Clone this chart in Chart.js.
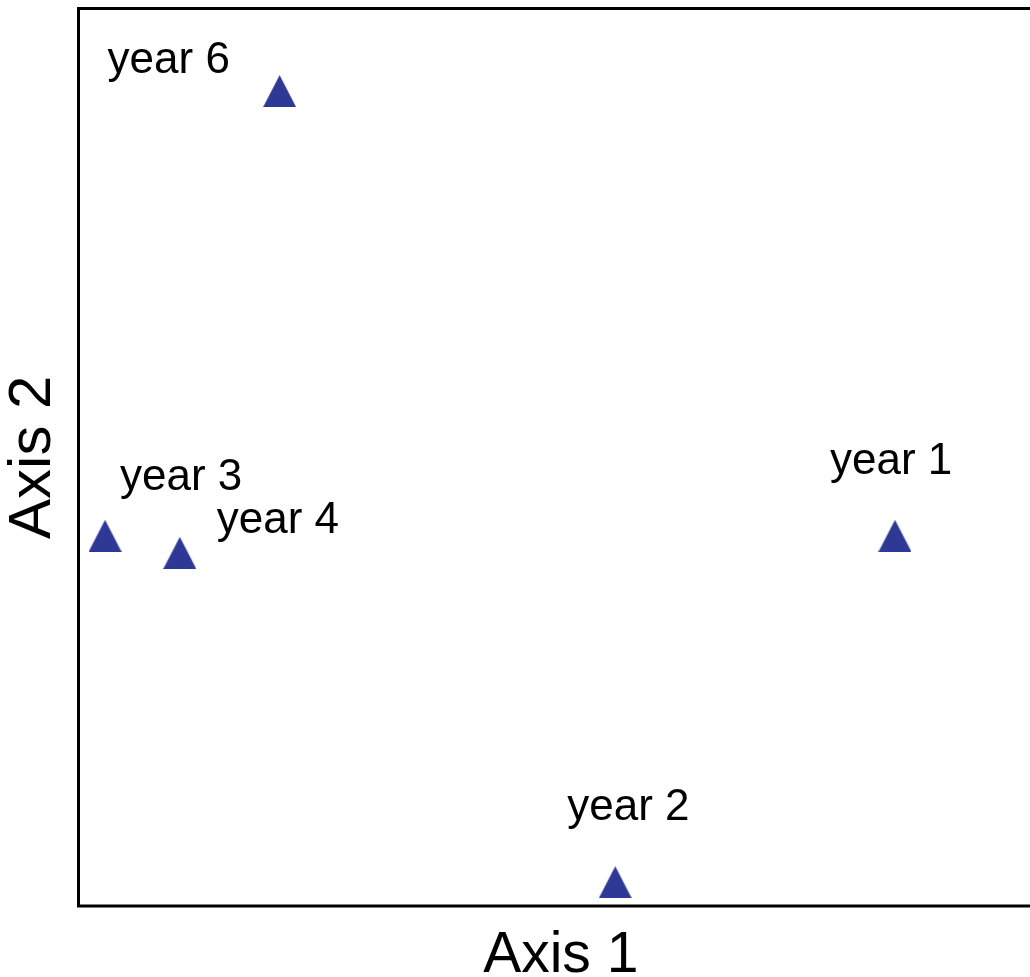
<!DOCTYPE html>
<html>
<head>
<meta charset="utf-8">
<title>Axis 1 / Axis 2</title>
<script src="https://cdn.jsdelivr.net/npm/chart.js@4/dist/chart.umd.min.js"></script>
<style>
  html, body { margin:0; padding:0; background:#fff; overflow:hidden; }
  #wrap { width:1030px; height:977px; overflow:hidden; }
</style>
</head>
<body>
<div id="wrap"><canvas id="chart" width="1044" height="985"></canvas></div>
<script>
// --- data ---
const years = ["year 1", "year 2", "year 3", "year 4", "year 6"];
const axis1 = [0.693, 0.113, -0.945, -0.790, -0.583];
const axis2 = [-0.175, -0.947, -0.175, -0.213, 0.816];

// label placement (px, from point to text start / baseline)
const labelOffsets = [[-65, -62], [-48, -62], [15, -46], [37, -20], [-172, -18]];

// --- triangle marker ---
function triangle(w, h, color) {
  const c = document.createElement("canvas");
  c.width = w; c.height = h;
  const g = c.getContext("2d");
  g.fillStyle = color;
  g.beginPath();
  g.moveTo(0, h); g.lineTo(w/2, 0); g.lineTo(w, h);
  g.closePath(); g.fill();
  return c;
}
const marker = triangle(33, 32, "#2d3994");

// --- plugins ---
const frame = {
  id: "frame",
  afterDraw(chart) {
    const {ctx, chartArea: a} = chart;
    ctx.save();
    ctx.strokeStyle = "#000";
    ctx.lineWidth = 3;
    ctx.beginPath();
    ctx.moveTo(a.right + 2, a.top);
    ctx.lineTo(a.left, a.top);
    ctx.lineTo(a.left, a.bottom);
    ctx.lineTo(a.right + 2, a.bottom);
    ctx.stroke();
    ctx.restore();
  }
};

const pointLabels = {
  id: "pointLabels",
  afterDatasetsDraw(chart) {
    const {ctx} = chart;
    const meta = chart.getDatasetMeta(0);
    ctx.save();
    ctx.fillStyle = "#000";
    ctx.font = "44px 'Liberation Sans', Arial, sans-serif";
    ctx.textAlign = "left";
    ctx.textBaseline = "alphabetic";
    meta.data.forEach((pt, i) => {
      const [dx, dy] = labelOffsets[i];
      ctx.fillText(years[i], pt.x + dx, pt.y + dy);
    });
    ctx.restore();
  }
};

// --- chart ---
const fam = "'Liberation Sans', Arial, sans-serif";

new Chart(document.getElementById("chart").getContext("2d"), {
  type: "scatter",
  data: {
    labels: years,
    datasets: [{
      data: axis1.map((x, i) => ({x, y: axis2[i]})),
      pointStyle: marker,
      pointRadius: 1,
      pointHoverRadius: 1,
      pointBorderWidth: 0,
      clip: false
    }]
  },
  options: {
    responsive: false,
    animation: false,
    layout: { padding: { top: 8.5, right: 0, bottom: 0, left: 0 } },
    plugins: { legend: { display: false }, tooltip: { enabled: false } },
    scales: {
      x: {
        min: -1, max: 1,
        grid: { display: false, drawTicks: false },
        border: { display: false },
        ticks: { display: false },
        title: { display: true, text: "Axis 1", color: "#000",
                 font: { family: fam, size: 57, lineHeight: 1 }, padding: { top: 22, bottom: 0 } }
      },
      y: {
        min: -1, max: 1,
        grid: { display: false, drawTicks: false },
        border: { display: false },
        ticks: { display: false },
        title: { display: true, text: "Axis 2", color: "#000",
                 font: { family: fam, size: 60, lineHeight: 1 }, padding: { top: 3, bottom: 15.5 } }
      }
    }
  },
  plugins: [frame, pointLabels]
});
</script>
</body>
</html>
